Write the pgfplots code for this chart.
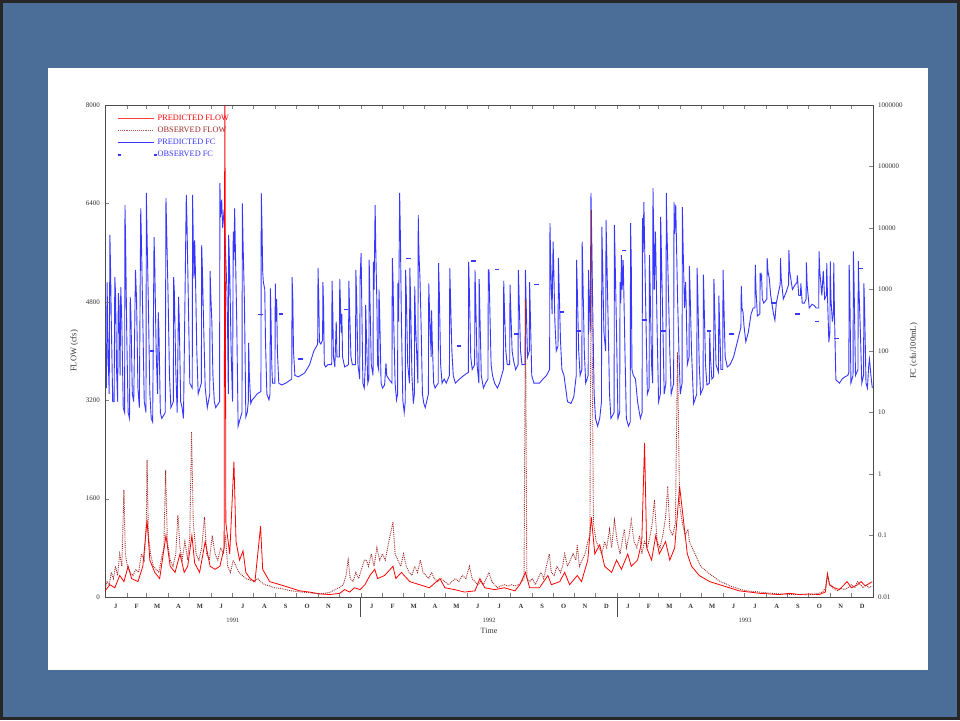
\documentclass[border=0pt]{standalone}
\usepackage{fontspec}
\setmainfont{Liberation Serif}
\usepackage{pgfplots}
\pgfplotsset{compat=1.18}
\definecolor{slide}{RGB}{74,110,152}
\definecolor{obsred}{RGB}{160,40,40}
\definecolor{fcblue}{RGB}{55,55,255}
\begin{document}
\begin{tikzpicture}
\fill[black!85] (0pt,0pt) rectangle (960pt,720pt);
\fill[slide] (3pt,3pt) rectangle (957pt,717pt);
\fill[white] (48pt,50pt) rectangle (928pt,652pt);
% ---------------- FC axis (right, log) ----------------
\begin{axis}[
  at={(105pt,123pt)}, anchor=south west, scale only axis,
  width=768pt, height=492pt,
  xmin=0, xmax=1096, ymode=log, ymin=0.01, ymax=1000000,
  axis x line=none, axis y line*=right,
  tick align=inside, major tick length=4pt,
  ytick={0.01,0.1,1,10,100,1000,10000,100000,1000000},
  yticklabels={0.01,0.1,1,10,100,1000,10000,100000,1000000},
  yminorticks=false,
  /pgf/number format/assume math mode=true,
  tick label style={font=\fontsize{7}{8}\selectfont, text=black!80},
  yticklabel style={xshift=1.5pt},
  axis line style={draw=black!70, line width=0.6pt},
  ylabel={FC (cfu/100mL)},
  ylabel style={at={(axis description cs:1.053,0.5)}, anchor=center, font=\fontsize{8.5}{9}\selectfont, text=black!80},
]
\addplot[fcblue, line width=0.9pt] table {
0 40
2 25
3 1300
4.5 80
6 20
7 7762
8 2000
9 300
11 15
13 15
14 1585
15 900
16.5 50
18 15
19 871
20 600
21.5 40
22.5 1096
24 300
26 12
28 10
28.5 23440
29.5 5000
31 200
33 10
35 8
36 759
37 400
39 20
41 15
43.5 2089
45 700
47 25
49 12
51 20890
52 6000
54 300
56 15
58.5 10
59 37150
60 8000
62 500
64 20
66 8
68 7
70 7079
71 2500
73 100
75 20
76 427
77 200
79 10
81 8
86 10
87 30900
88 9000
90 800
92 40
94 12
97.5 15
98 1585
99 900
101 50
103 10
105 759
106 300
108 15
110 12
112 8
116 34670
117 12000
119 600
121 30
124.5 25
125 34670
126 6000
127 1500
128 6310
129 2000
131 100
133 20
137.5 30
138 5248
139 2000
141 200
143 25
146 12
149.5 20
150 2000
151 800
152.5 295
154 40
156 15
158 12
163.5 15
164 53700
165 15000
166.5 28840
168 10000
170 20000
172 4000
174 1000
175 200
176 20
176.5 7762
178 2000
180 100
182 15
183 8710
184 3000
185 20890
186 5000
188 300
190 6
193 8
195.5 10
196 25120
197 6000
199 600
201 8.5
203 10
204.5 15
205 135
206 40
208 14
210 16
214 18
217 20
222.5 22
223 37150
224 12000
225 2000
226 1318
228 1000
229 150
231 20
234 16
235.5 20
236 1047
237 300
238 60
239 30
242.5 30
243 1259
244 300
245 700
246 100
248 30
252 28
258 30
266.5 35
267 1585
268 700
269 100
271 40
276 38
285 44
292 60
298 100
302 120
303.5 130
304 2239
305 800
306 140
308 130
310.5 150
311 1318
312 500
313 60
315 55
318 60
323.5 60
324 1380
325 500
326 80
328 55
330 300
331 80
334.5 80
335 1479
336 600
337 200
338 400
339 80
342 55
347.5 60
348 1380
349 500
351 80
353 60
357.5 60
358 2089
359 800
361 60
363.5 35
364 1500
365.5 3890
366.5 500
368 30
370 25
371.5 60
372 562
373 200
375 30
376.5 35
377 3020
378 800
380 60
382.5 40
383 2818
384 1000
385.5 23440
386.5 4000
388 600
389 60
390.5 50
391 1000
392 400
394 30
396 25
399 28
401 63
402 40
405 35
409.5 30
410 3236
411 1500
412 300
414 30
416 16
417.5 20
418 1259
419 300
420.5 37150
421.5 8000
423 300
425 16
427 10
428.5 15
429 2089
430 800
432 60
434.5 30
435 2239
436 800
438 40
440 14
441.5 20
442 1122
443 300
446.5 30
447 16220
448 4000
449.5 1479
451 300
453 20
455 14
457 12
461.5 20
462 1259
463 500
465.5 80
466 457
467 150
469 30
471 25
475.5 30
476 2692
477 1000
479 60
481 30
484 35
487 30
491.5 40
492 2239
493 800
495 100
497 40
500 30
506 35
512 40
518.5 45
519 2818
520 900
522 80
524 50
527.5 60
528 2089
529 700
531 60
533.5 30
534 1479
535 400
537 40
540 25
543 30
546.5 35
547 2089
548 2089
549 600
551 60
553 40
556 30
560 25
563 30
566 40
568.5 50
569 1380
570 500
572 100
574 60
577.5 60
578 1202
579 500
581 100
583 70
586 50
589.5 60
590 2089
591 700
593 100
595 60
599.5 60
600 2089
601 600
603 80
605.5 100
606 1318
607 400
609 40
612 30
616 30
620 30
625 35
630 40
634.5 50
635 12020
636 3000
638 400
639.5 6026
640.5 2000
642 300
644 100
646.5 120
647 3236
648 1200
650 150
652 50
655 40
660 15
665 14
669 18
672.5 40
673 3020
674 1000
676 100
678 40
680.5 50
681 6026
682 1500
684 100
686 30
689.5 40
690 2089
691 800
692.5 200
693.5 37150
694.5 8000
696 500
698 20
700 8
703 6
706 8
708.5 15
709 10470
710 3000
712 200
714.5 100
715 13490
716 4000
718 300
720 20
722 8
726.5 10
727 11220
728 3000
730 200
732 8
734.5 10
735 1318
736 600
737 3631
738 1000
739.5 3000
740.5 800
742 100
744 8
747 6
749.5 7
750 12020
751 3000
752 50
754 40
757 35
760 15
764 8
766.5 10
767 14450
768 4000
769 26300
770 6000
772 300
774 20
776.5 25
777 3631
778 1000
780 60
781.5 30
782 44670
783 8000
784 1000
785.5 8710
786.5 2000
788 200
790 15
792.5 20
793 15140
794 4000
796 300
798 20
800.5 30
801 37150
802 9000
804 1000
806 100
808 20
811.5 30
812 26300
813 8000
814.5 24000
815.5 6000
817 800
819 100
821 20
823.5 30
824 21880
825 5000
827 500
828.5 1318
829.5 500
831 60
833.5 80
834 2399
835 900
837 100
840 14
844.5 20
845 2239
846 800
848 60
850 20
853.5 25
854 1738
855 600
857 60
859 28
862.5 30
863 204
864 80
866 35
868.5 38
869 1479
870 500
872 60
875.5 45
876 794
877 300
879 50
881.5 50
882 2089
883 700
885 80
888 55
892 60
897 80
903 150
907.5 245
908 1148
909 500
910.5 430
912 250
914.5 141
918 200
922 400
925 500
927.5 500
928 2512
929 1000
931 372
934.5 400
935 1862
936 1500
937 1700
938 708
940 600
944.5 700
945 3236
946 2000
948 1500
950 800
954 400
956 316
958 600
962 1000
963.5 1200
964 3236
965 1500
968 700
972 900
975.5 1200
976 4365
977 2000
981 1000
985 1200
987.5 1300
988 1700
990 800
992.5 800
993 1259
995 600
998 600
1000.5 700
1001 2754
1002 1200
1005 500
1009 575
1012 550
1015 500
1018.5 500
1019 4169
1020 2000
1023 800
1025 2000
1027 700
1029.5 800
1030 2700
1031 800
1033 140
1034.5 200
1035 2884
1036 700
1038 300
1039.5 400
1040 2754
1041 400
1043 34
1048 30
1052 35
1056 38
1060 40
1061.5 45
1062 2512
1063 800
1064.5 30
1067.5 40
1068 4169
1069 1200
1071 40
1074.5 50
1075 2884
1076 1000
1078 200
1080 30
1082.5 40
1083 1259
1084 500
1086 30
1088 25
1090 60
1091 74
1093 40
1095 25
};
\addplot[only marks, mark=-, mark size=2.2pt, mark options={fcblue, line width=1.6pt}] table {
67 100
222 390
251 400
279 74
344 470
433 3200
505 120
526 2900
559 2100
587 190
616 1200
652 430
676 210
741 4300
770 320
797 210
862 210
894 190
954 600
988 400
1016 300
1044 160
1079 2200
};
\end{axis}
% ---------------- Flow axis (left) ----------------
\begin{axis}[
  at={(105pt,123pt)}, anchor=south west, scale only axis,
  width=768pt, height=492pt,
  xmin=0, xmax=1096, ymin=0, ymax=8000,
  clip mode=individual,
  tick align=inside, major tick length=4pt,
  xtick pos=both, ytick pos=left,
  xtick={0,31,59,90,120,151,181,212,243,273,304,334,365,396,425,456,486,517,547,578,609,639,670,700,731,762,790,821,851,882,912,943,974,1004,1035,1065,1096},
  xticklabels={},
  extra x ticks={15.5,45,74.5,105,135.5,166,196.5,227.5,258,288.5,319,349.5,380.5,410.5,440.5,471,501.5,532,562.5,593.5,624,654.5,685,715.5,746.5,776,805.5,836,866.5,897,927.5,958.5,989,1019.5,1050,1080.5},
  extra x tick labels={J,F,M,A,M,J,J,A,S,O,N,D,J,F,M,A,M,J,J,A,S,O,N,D,J,F,M,A,M,J,J,A,S,O,N,D},
  extra x tick style={major tick length=0pt, tick label style={font=\bfseries\fontsize{6.5}{7}\selectfont, yshift=-4pt}},
  ytick={0,1600,3200,4800,6400,8000},
  /pgf/number format/assume math mode=true,
  /pgf/number format/1000 sep={},
  tick label style={font=\fontsize{7}{8}\selectfont, text=black!80},
  yticklabel style={xshift=-1.5pt},
  axis line style={draw=black!70, line width=0.6pt},
  ylabel={FLOW (cfs)},
  ylabel style={at={(axis description cs:-0.04,0.5)}, anchor=center, font=\fontsize{8.5}{9}\selectfont, text=black!80},
  legend style={at={(axis description cs:0.016,0.984)}, anchor=north west, draw=none, fill=none,
    font=\fontsize{8.3}{9}\selectfont, row sep=2.2pt, inner sep=0pt, legend cell align=left,
    nodes={inner sep=1.5pt}},
]
\addplot[red, line width=0.8pt, forget plot] table {
0 100
7 200
14 150
21 350
27 250
33 500
38 300
47 250
54 500
60 1250
64 600
71 400
78 300
87 1000
93 500
100 400
107 700
113 400
118 500
124 1000
128 550
135 400
143 900
150 500
157 450
164 500
170 800
171 9000
172.5 1200
178 700
184 2200
187 900
192 600
197 750
201 400
207 300
214 250
222 1150
225 450
235 250
250 200
264 150
278 100
292 80
307 50
321 40
335 60
342 120
349 80
356 150
364 120
371 200
378 350
385 450
389 300
399 350
411 500
415 300
423 400
435 250
449 200
463 150
478 300
485 150
499 120
513 80
528 100
535 300
542 150
556 120
570 150
585 100
592 200
600 400
606 150
620 150
632 350
637 200
649 250
656 400
663 200
674 350
680 250
689 600
694 1300
699 700
706 850
713 500
723 400
730 600
737 450
746 700
751 500
760 600
766 900
770 2500
773 800
780 600
786 1000
791 700
800 900
806 600
813 800
820 1800
826 1200
831 700
837 500
848 350
863 250
877 200
891 150
905 100
920 80
934 60
948 50
962 40
977 60
991 40
1005 50
1019 40
1028 80
1031 380
1034 200
1041 150
1048 120
1059 250
1065 150
1074 200
1079 250
1085 180
1095 250
};
\addplot[obsred, densely dotted, line width=0.9pt, forget plot] table {
0 150
3 250
6 200
9 400
12 300
15 500
18 350
21 700
24 500
27 1740
29 700
32 500
36 400
40 350
44 450
48 400
52 700
56 600
59 1200
60 2230
62 1000
65 700
69 500
73 450
77 400
80 600
84 800
86.5 2060
89 900
93 600
97 500
101 700
104 1330
107 800
110 600
114 900
118 600
121 1000
123.5 2680
126 1200
130 700
134 600
138 800
142 1300
145 700
149 600
153 1000
157 700
161 600
165 800
169 700
172 1000
175 500
179 400
183 600
187 500
191 400
196 350
201 300
206 280
212 250
218 300
222 250
228 200
235 180
242 150
250 140
258 120
266 100
274 90
282 80
290 70
298 60
306 50
314 60
322 80
328 120
334 150
340 200
344 350
347 600
350 300
354 250
358 400
362 300
366 450
370 600
373 600
376 500
380 700
384 500
388 800
392 600
396 700
400 600
405 900
411 1220
414 700
418 600
422 500
426 700
430 500
434 400
438 350
442 500
446 400
450 600
454 400
458 350
462 300
466 400
470 300
475 250
480 300
485 250
490 200
495 250
500 300
505 250
510 350
515 300
520 500
524 300
528 250
532 200
536 250
540 200
544 300
548 400
552 250
556 200
560 150
565 180
570 200
575 180
580 200
585 180
590 200
595 250
598 300
600 4830
602 300
606 250
610 300
614 200
618 300
622 400
626 300
630 500
634 700
637 400
641 350
645 500
650 400
653 500
656 700
660 500
664 600
668 700
672 600
674 850
677 500
681 600
685 700
689 900
692 1000
694 6290
697 1200
701 900
705 800
709 700
713 900
716 800
720 1100
723 800
727 1250
731 900
735 700
738 900
741 1100
744 800
748 1000
751 1250
755 900
759 800
763 1000
766 700
770 900
774 800
778 1000
781 1200
784 1580
788 900
792 800
796 1000
800 1300
803 1800
806 1100
810 1000
814 1200
817 3980
820 1500
824 1200
828 1000
832 1100
834 900
838 800
842 700
846 600
850 500
855 450
860 400
866 350
872 300
878 250
885 220
892 180
900 150
908 120
916 100
925 90
934 80
943 70
952 60
961 50
970 45
980 40
990 40
1000 35
1010 40
1018 60
1024 80
1028 150
1031 350
1034 200
1038 150
1042 120
1046 100
1050 150
1055 120
1060 150
1065 200
1070 150
1074 250
1078 200
1082 150
1086 200
1090 150
1095 180
};
\addlegendimage{red!75, line width=0.7pt, legend image code/.code={\draw[red!75, line width=0.7pt] (0pt,0pt) -- (36pt,0pt);}}
\addlegendentry{\textcolor{red}{PREDICTED FLOW}}
\addlegendimage{obsred, legend image code/.code={\draw[obsred!80, densely dotted, line width=0.9pt] (0pt,0pt) -- (36pt,0pt);}}
\addlegendentry{\textcolor{obsred}{OBSERVED FLOW}}
\addlegendimage{fcblue, legend image code/.code={\draw[fcblue, line width=0.9pt] (0pt,0pt) -- (36pt,0pt);}}
\addlegendentry{\textcolor{fcblue}{PREDICTED FC}}
\addlegendimage{fcblue, legend image code/.code={\fill[fcblue] (0pt,-0.9pt) rectangle (2pt,0.9pt); \fill[fcblue] (36pt,-0.9pt) rectangle (38pt,0.9pt);}}
\addlegendentry{\textcolor{fcblue}{OBSERVED FC}}
\draw[black!70, line width=0.6pt] (axis cs:365,0) -- ++(0pt,-20pt);
\draw[black!70, line width=0.6pt] (axis cs:731,0) -- ++(0pt,-20pt);
\node[font=\fontsize{6.5}{7}\selectfont, text=black!80] at (axis cs:182.5,0) [yshift=-23pt] {1991};
\node[font=\fontsize{6.5}{7}\selectfont, text=black!80] at (axis cs:548,0) [yshift=-23pt] {1992};
\node[font=\fontsize{6.5}{7}\selectfont, text=black!80] at (axis cs:913.5,0) [yshift=-23pt] {1993};
\node[font=\fontsize{8}{9}\selectfont, text=black!80] at (axis cs:548,0) [yshift=-34pt] {Time};
\end{axis}
\end{tikzpicture}
\end{document}
